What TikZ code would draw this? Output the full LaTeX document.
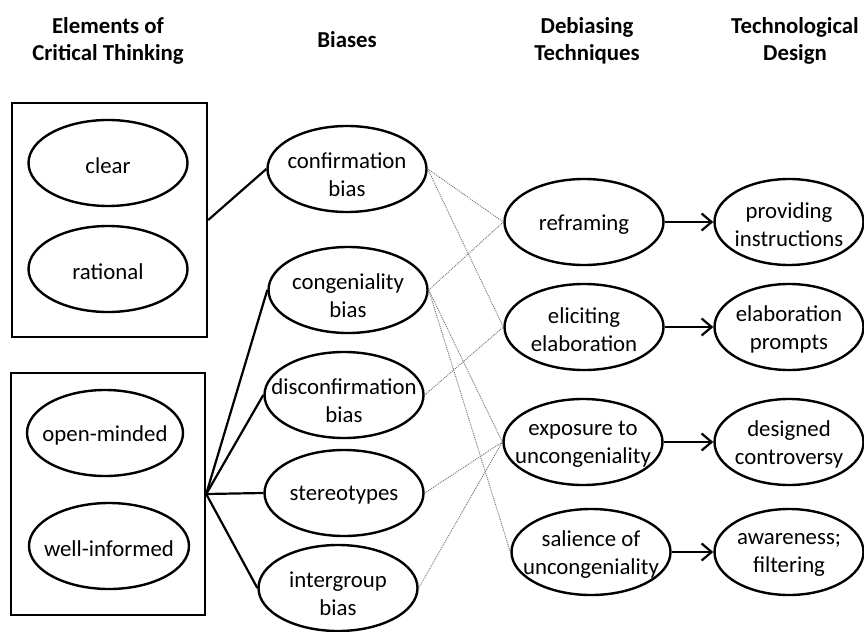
\documentclass[tikz,border=0pt]{standalone}
\usepackage{fontspec}
\setmainfont{Carlito}
\usetikzlibrary{shapes.geometric,arrows.meta}
\begin{document}
\begin{tikzpicture}[x=1bp,y=-1bp,
  lbl/.style={align=center,inner sep=0pt,yshift=-2.5bp,font=\fontsize{22.8bp}{28bp}\selectfont},
  elbase/.style={ellipse,draw,line width=2.4bp,minimum width=159bp,minimum height=86bp,inner sep=0pt},
  el/.style={elbase,label={[lbl]center:{#1}}},
  elb/.style={elbase,label={[lbl,yshift=-3bp]center:{#1}}},
  elr/.style={el={#1},minimum width=149bp},
  boxnode/.style={draw,line width=2.4bp,inner sep=0pt},
  head/.style={align=center,font=\fontsize{22.8bp}{27bp}\selectfont\bfseries},
  solidline/.style={line width=2.2bp},
  dotline/.style={black!55,line width=0.9bp,dash pattern=on 1bp off 1bp},
  arr/.style={line width=2.2bp,-{Straight Barb[length=10bp,width=17bp,line width=2.2bp]}}]
\useasboundingbox (0,0) rectangle (864,632);
% headers
\node[head] (h1) at (108,41) {Elements of\\Critical Thinking};
\node[head] (h2) at (347,40) {Biases};
\node[head] (h3) at (587,41) {Debiasing\\Techniques};
\node[head] (h4) at (795,41) {Technological\\Design};
% boxes
\node[boxnode,minimum width=195bp,minimum height=234bp] (box1) at (109.5,220) {};
\node[boxnode,minimum width=194bp,minimum height=242bp] (box2) at (108,494) {};
% elements
\node[el={clear}] (clear) at (108,163) {};
\node[el={rational}] (rational) at (108,269) {};
\node[el={open-minded},minimum width=156bp] (open) at (105,433) {};
\node[el={well-informed},minimum width=160bp] (well) at (109,546) {};
% biases
\node[elb={confirmation\\bias}] (conf) at (347,169) {};
\node[elb={congeniality\\bias}] (cong) at (348,290) {};
\node[elb={disconfirmation\\bias}] (disc) at (344,395) {};
\node[el={stereotypes}] (ster) at (344,493) {};
\node[elb={intergroup\\bias}] (inter) at (338,588) {};
% debiasing
\node[el={reframing}] (refr) at (584,222) {};
\node[el={eliciting\\elaboration}] (elic) at (584,327) {};
\node[el={exposure to\\uncongeniality}] (expo) at (583,442) {};
\node[el={salience of\\uncongeniality}] (sal) at (591,552) {};
% design
\node[elr={providing\\instructions}] (prov) at (789,222) {};
\node[elr={elaboration\\prompts}] (elab) at (789,327) {};
\node[elr={designed\\controversy}] (desg) at (789,442) {};
\node[elr={awareness;\\filtering}] (awar) at (789,552) {};
% solid connectors
\draw[solidline] (box1.east) -- (conf.west);
\draw[solidline] (box2.east) -- (cong.west);
\draw[solidline] (box2.east) -- (disc.west);
\draw[solidline] (box2.east) -- (ster.west);
\draw[solidline] (box2.east) -- (inter.west);
% dotted connectors
\draw[dotline] (conf.east) -- (refr.west);
\draw[dotline] (conf.east) -- (elic.west);
\draw[dotline] (cong.east) -- (refr.west);
\draw[dotline] (cong.east) -- (expo.west);
\draw[dotline] (cong.east) -- (sal.west);
\draw[dotline] (disc.east) -- (elic.west);
\draw[dotline] (ster.east) -- (expo.west);
\draw[dotline] (inter.east) -- (expo.west);
% arrows
\draw[arr] (refr.east) -- (prov.west);
\draw[arr] (elic.east) -- (elab.west);
\draw[arr] (expo.east) -- (desg.west);
\draw[arr] (sal.east) -- (awar.west);
\end{tikzpicture}
\end{document}
